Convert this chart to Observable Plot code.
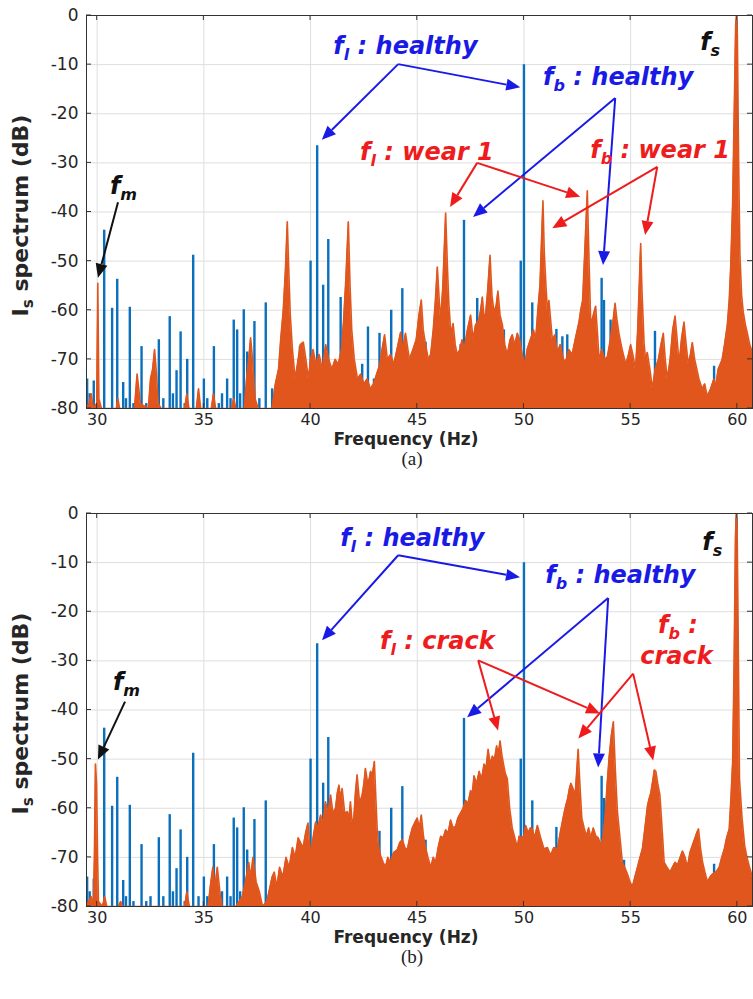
<!DOCTYPE html>
<html>
<head>
<meta charset="utf-8">
<script src="https://cdn.jsdelivr.net/npm/d3@7"></script>
<script src="https://cdn.jsdelivr.net/npm/@observablehq/plot@0.6"></script>
<style>
  html, body { margin: 0; padding: 0; background: #fff; }
  #fig { position: relative; width: 753px; height: 999px; overflow: hidden; background: #fff; }
</style>
</head>
<body>
<div id="fig"></div>
<script>
// ---------- data ----------
const xTicks = [30, 35, 40, 45, 50, 55, 60];
const yTicks = [0, -10, -20, -30, -40, -50, -60, -70, -80];

// healthy spectrum (same in both panels): spike frequencies (Hz) and levels (dB)
const healthyFreq = [29.53, 29.65, 29.84, 30.33, 30.70, 30.94, 31.22, 31.35, 31.53, 31.70, 32.08, 32.30, 32.50, 32.89, 33.10, 33.40, 33.55, 33.72, 33.91, 34.10, 34.22, 34.50, 34.75, 35.00, 35.16, 35.47, 35.70, 35.85, 36.09, 36.25, 36.40, 36.56, 36.70, 36.87, 37.03, 37.37, 37.60, 37.90, 38.20, 38.40, 38.70, 39.20, 39.50, 39.61, 39.85, 40.00, 40.15, 40.31, 40.59, 40.83, 41.09, 41.41, 41.90, 42.42, 42.69, 42.97, 43.23, 43.50, 43.78, 44.30, 44.70, 45.39, 45.80, 46.00, 46.90, 47.03, 47.19, 47.81, 48.00, 48.60, 49.06, 49.30, 49.85, 50.00, 50.39, 50.70, 51.20, 51.52, 51.80, 52.03, 52.40, 52.80, 53.30, 53.64, 53.75, 54.06, 54.40, 54.69, 55.10, 55.70, 56.14, 56.40, 56.72, 57.20, 57.60, 58.10, 58.44, 58.91, 59.30, 59.60, 59.97, 60.30, 60.60];
const healthyDb   = [-74, -77, -74.4, -43.7, -59.6, -53.7, -74.7, -78, -59.4, -79, -67.4, -79, -78, -66, -78, -61.3, -77, -72.3, -64.4, -79, -70, -48.8, -78, -74, -78, -67.4, -79, -77, -74, -78, -62, -64, -77, -59.9, -68.5, -62.3, -78, -58.5, -76, -77, -78, -77, -67.4, -68, -76, -50, -77, -26.5, -54.9, -45.6, -72, -57.4, -76, -71, -63.4, -74, -64.7, -77, -60, -55.6, -76, -66.5, -77, -75, -76, -67, -41.7, -57.6, -76, -77, -64, -75, -50, -10, -58.5, -76, -74, -63.9, -65.4, -65, -77, -76, -75, -53.5, -58, -62, -76, -70.6, -77, -78, -64.3, -76, -74, -78, -77, -79, -78, -71.4, -77, -76, -1, -75, -78];

// wear 1 spectrum (panel a)
const wearFreq = [29.50, 29.62, 29.72, 29.82, 29.98, 30.03, 30.08, 30.20, 30.90, 30.97, 31.05, 31.75, 31.87, 31.95, 32.02, 32.40, 32.50, 32.60, 32.69, 32.78, 32.86, 33.00, 34.10, 34.20, 34.30, 34.65, 34.75, 34.85, 35.35, 35.45, 35.55, 36.30, 36.40, 36.50, 36.90, 37.00, 37.10, 37.19, 37.28, 37.40, 37.55, 38.20, 38.35, 38.50, 38.60, 38.72, 38.82, 38.91, 38.98, 39.05, 39.15, 39.28, 39.42, 39.52, 39.66, 39.78, 39.90, 40.00, 40.12, 40.25, 40.40, 40.55, 40.71, 40.85, 41.00, 41.15, 41.30, 41.45, 41.55, 41.65, 41.77, 41.85, 41.93, 42.05, 42.20, 42.35, 42.50, 42.65, 42.80, 42.95, 43.10, 43.25, 43.35, 43.47, 43.60, 43.75, 43.90, 44.05, 44.22, 44.32, 44.45, 44.63, 44.80, 44.95, 45.08, 45.19, 45.28, 45.39, 45.52, 45.63, 45.75, 45.85, 45.94, 46.03, 46.10, 46.20, 46.33, 46.42, 46.48, 46.58, 46.68, 46.78, 46.87, 47.00, 47.10, 47.20, 47.35, 47.50, 47.62, 47.73, 47.88, 47.97, 48.05, 48.12, 48.20, 48.30, 48.41, 48.50, 48.60, 48.70, 48.78, 48.88, 48.99, 49.10, 49.22, 49.35, 49.45, 49.57, 49.69, 49.80, 49.92, 50.05, 50.15, 50.30, 50.45, 50.55, 50.65, 50.75, 50.83, 50.89, 50.95, 51.03, 51.10, 51.17, 51.25, 51.33, 51.45, 51.56, 51.70, 51.85, 51.95, 52.10, 52.26, 52.40, 52.50, 52.58, 52.66, 52.75, 52.85, 52.97, 53.05, 53.13, 53.25, 53.36, 53.45, 53.52, 53.65, 53.78, 53.91, 54.05, 54.18, 54.27, 54.36, 54.45, 54.60, 54.77, 54.90, 55.00, 55.10, 55.23, 55.33, 55.41, 55.47, 55.53, 55.63, 55.70, 55.78, 55.90, 56.02, 56.15, 56.30, 56.42, 56.53, 56.62, 56.72, 56.85, 56.97, 57.08, 57.18, 57.27, 57.38, 57.50, 57.60, 57.70, 57.80, 57.89, 58.00, 58.20, 58.35, 58.47, 58.59, 58.75, 58.90, 58.98, 59.10, 59.20, 59.29, 59.40, 59.53, 59.62, 59.69, 59.78, 59.86, 59.92, 59.96, 60.00, 60.06, 60.12, 60.20, 60.28, 60.38, 60.47, 60.58, 60.71];
const wearDb   = [-80, -79, -77, -80, -79, -54.5, -78, -80, -80, -78, -80, -80, -73, -76, -79, -80, -74, -72, -68, -73, -79, -80, -80, -77, -80, -80, -76, -80, -80, -77, -80, -80, -78, -80, -80, -74, -70, -65.6, -70, -78, -80, -80, -75, -72, -66, -60, -52, -42, -52, -61, -68, -74, -70, -67, -66.5, -70, -74, -70, -68, -71, -69, -72, -67, -70, -72, -70, -71, -68, -62, -54, -42, -55, -64, -70, -74, -73, -75, -74, -76, -75, -73, -71, -68, -65, -70, -69, -71, -68, -64.5, -68, -64.7, -70, -68, -66, -61, -57.9, -64, -67, -70, -69, -64, -58, -51.2, -58, -62, -55, -40.2, -52, -58.6, -65, -62.7, -67, -69, -68, -66, -68, -64, -61, -66, -63, -62, -60, -57.3, -61, -61, -56, -48.8, -57, -60.5, -59, -56.1, -61, -63, -67, -69, -66, -65, -67, -64.7, -66, -69, -71, -68, -66, -64, -66, -60, -55, -45, -37.7, -48, -55, -60, -58, -62, -66, -65, -68.6, -67, -70, -70.5, -68, -69, -66, -64, -62.4, -60, -58, -48, -35.7, -50, -63, -61, -59.2, -65, -70, -68, -70, -69.5, -66, -62, -58.6, -62, -64.7, -68, -71, -69, -67, -69, -72, -64, -54, -46.4, -56, -66.8, -70, -68.6, -72, -76, -72, -70, -67, -64.7, -70, -74, -70, -64, -61.2, -66, -71, -66, -62.4, -67, -71, -69, -66.6, -70, -74, -76, -75, -77.5, -76, -74, -75.7, -72, -71, -70, -67, -63, -58, -51, -38, -18, -2, 0, -4, -30, -48.6, -57, -60.5, -63, -64.7, -67, -68.6];

// crack spectrum (panel b)
const crackFreq = [29.50, 29.60, 29.72, 29.82, 29.87, 29.92, 29.97, 30.02, 30.06, 30.25, 30.35, 30.45, 31.00, 31.10, 31.20, 34.10, 34.20, 34.32, 35.20, 35.30, 35.42, 35.52, 35.63, 35.75, 35.85, 36.50, 36.80, 36.95, 37.10, 37.20, 37.30, 37.45, 37.60, 37.75, 37.95, 38.10, 38.20, 38.30, 38.42, 38.55, 38.70, 38.85, 39.00, 39.15, 39.28, 39.42, 39.53, 39.65, 39.77, 39.88, 40.00, 40.12, 40.24, 40.35, 40.47, 40.58, 40.70, 40.82, 40.94, 41.05, 41.17, 41.25, 41.33, 41.40, 41.48, 41.60, 41.72, 41.80, 41.87, 41.95, 42.03, 42.10, 42.18, 42.30, 42.42, 42.50, 42.57, 42.68, 42.75, 42.81, 42.90, 42.99, 43.06, 43.12, 43.20, 43.28, 43.40, 43.51, 43.62, 43.74, 43.90, 44.06, 44.18, 44.30, 44.42, 44.53, 44.65, 44.77, 44.88, 45.00, 45.10, 45.19, 45.30, 45.39, 45.50, 45.63, 45.75, 45.86, 45.98, 46.10, 46.22, 46.33, 46.45, 46.56, 46.68, 46.80, 46.90, 47.03, 47.15, 47.27, 47.38, 47.50, 47.58, 47.66, 47.78, 47.90, 48.02, 48.13, 48.22, 48.32, 48.42, 48.52, 48.62, 48.72, 48.80, 48.88, 48.96, 49.04, 49.13, 49.22, 49.33, 49.45, 49.57, 49.69, 49.77, 49.88, 50.00, 50.08, 50.20, 50.30, 50.39, 50.50, 50.63, 50.78, 50.94, 51.10, 51.25, 51.40, 51.57, 51.70, 51.80, 51.88, 51.96, 52.05, 52.13, 52.20, 52.30, 52.40, 52.48, 52.54, 52.62, 52.71, 52.82, 52.93, 53.03, 53.13, 53.25, 53.37, 53.48, 53.60, 53.70, 53.80, 53.90, 53.99, 54.10, 54.19, 54.28, 54.38, 54.50, 54.61, 54.72, 54.85, 54.97, 55.08, 55.20, 55.32, 55.44, 55.55, 55.67, 55.79, 55.87, 55.94, 56.05, 56.11, 56.18, 56.27, 56.37, 56.47, 56.57, 56.70, 56.85, 56.96, 57.08, 57.20, 57.32, 57.43, 57.55, 57.66, 57.78, 57.90, 58.02, 58.10, 58.18, 58.27, 58.37, 58.48, 58.60, 58.72, 58.84, 59.00, 59.15, 59.27, 59.39, 59.50, 59.62, 59.70, 59.78, 59.85, 59.91, 59.95, 59.99, 60.04, 60.10, 60.22, 60.34, 60.45, 60.57, 60.71];
const crackDb   = [-80, -79, -78, -80, -70, -51, -55, -70, -79, -80, -78, -80, -80, -79, -80, -80, -77, -80, -80, -76, -72, -76, -72, -77, -80, -80, -78, -75, -71, -74, -70, -75, -77, -80, -79, -76, -74, -73, -76, -72, -74, -70, -72, -68, -70, -66, -67, -68, -65, -63, -69.6, -66, -62.8, -64, -61.4, -63, -58.7, -61, -57.3, -61, -60, -57, -55.3, -58, -56, -61, -60.7, -62, -58.7, -63, -62, -57, -53.2, -59, -57.3, -55, -51.9, -55, -54, -52.5, -53, -50.5, -58, -64, -68, -69.6, -71, -72, -70, -71, -69, -68.5, -67, -66.4, -68, -68.5, -66, -64, -63, -62, -64, -61.4, -66, -68, -70, -72, -70, -71, -68, -65.7, -66, -64.4, -65, -62.4, -64, -63.7, -62, -61, -60, -58.4, -59, -56.4, -57, -53.4, -55, -52.5, -54, -51, -52, -48, -51, -49.4, -50, -47.3, -49, -46.3, -49, -51, -53, -54, -60, -64, -66, -68, -65.7, -66, -65.7, -63.5, -65, -64, -64.2, -66, -63.5, -66, -68.3, -68, -69.6, -68, -68.3, -65, -62.8, -61, -59.5, -58, -56, -54.9, -56, -57.3, -52, -48, -55, -62, -64, -65.7, -64, -66, -64, -65.7, -66, -67.5, -66, -62, -55, -49.7, -45, -42.4, -52, -60.7, -66, -71, -72, -73.4, -75, -76, -74, -72, -70, -68.3, -64, -59.5, -58, -57, -54, -52.2, -52.5, -55, -57.3, -64, -71, -72, -73, -72, -71, -71.5, -70, -68.7, -70, -72, -69, -67.5, -66, -65, -64.2, -68, -71, -73, -75, -74, -73.4, -73, -72, -70, -68.3, -66, -64.2, -58, -50.5, -30, -5, 0, -3, -25, -54, -62, -67.5, -70, -72, -74];

// ---------- annotations (data coordinates: Hz, dB) ----------
const BLUE = "#1a1ae6", RED = "#ee1c1c", BLACK = "#111";
const labelsA = [
  {f: 41.09, db: -7.9, color: BLUE, parts: [["f"], ["l", 1], [" : healthy"]]},
  {f: 50.92, db: -14.2, color: BLUE, parts: [["f"], ["b", 1], [" : healthy"]]},
  {f: 42.34, db: -29.5, color: RED, parts: [["f"], ["l", 1], [" : wear 1"]]},
  {f: 53.13, db: -29.1, color: RED, parts: [["f"], ["b", 1], [" : wear 1"]]},
  {f: 58.28, db: -7.1, color: BLACK, parts: [["f"], ["s", 1]]},
  {f: 30.62, db: -36.4, color: BLACK, parts: [["f"], ["m", 1]]}
];
const arrowsA = [
  {color: BLUE, from: [44.13, -10.0], to: [40.55, -25.4]},
  {color: BLUE, from: [44.13, -10.0], to: [49.85, -14.7]},
  {color: BLUE, from: [54.30, -16.9], to: [47.64, -41.1]},
  {color: BLUE, from: [54.30, -16.9], to: [53.73, -50.9]},
  {color: RED, from: [47.83, -30.1], to: [46.56, -39.1]},
  {color: RED, from: [47.83, -30.1], to: [52.66, -37.0]},
  {color: RED, from: [56.27, -30.9], to: [51.35, -43.4]},
  {color: RED, from: [56.27, -30.9], to: [55.70, -44.8]},
  {color: BLACK, from: [31.00, -38.1], to: [30.06, -53.5]}
];
const labelsB = [
  {f: 41.41, db: -6.7, color: BLUE, parts: [["f"], ["l", 1], [" : healthy"]]},
  {f: 51.02, db: -14.3, color: BLUE, parts: [["f"], ["b", 1], [" : healthy"]]},
  {f: 43.28, db: -27.6, color: RED, parts: [["f"], ["l", 1], [" : crack"]]},
  {f: 56.31, db: -24.5, color: RED, parts: [["f"], ["b", 1], [" :"]]},
  {f: 55.47, db: -30.8, color: RED, parts: [["crack"]]},
  {f: 58.38, db: -7.6, color: BLACK, parts: [["f"], ["s", 1]]},
  {f: 30.76, db: -36.1, color: BLACK, parts: [["f"], ["m", 1]]}
];
const arrowsB = [
  {color: BLUE, from: [44.13, -8.6], to: [40.56, -25.9]},
  {color: BLUE, from: [44.13, -8.6], to: [49.84, -13.1]},
  {color: BLUE, from: [53.97, -17.3], to: [47.36, -41.6]},
  {color: BLUE, from: [53.97, -17.3], to: [53.50, -51.8]},
  {color: RED, from: [47.88, -30.0], to: [48.81, -44.3]},
  {color: RED, from: [47.88, -30.0], to: [53.59, -40.8]},
  {color: RED, from: [55.14, -32.7], to: [52.57, -45.9]},
  {color: RED, from: [55.14, -32.7], to: [56.08, -50.4]},
  {color: BLACK, from: [31.33, -38.4], to: [30.06, -50.2]}
];

// ---------- build ----------
const zip = (fs, ds) => fs.map((f, i) => ({f, db: ds[i]}));
const healthy = zip(healthyFreq, healthyDb);
const wear = zip(wearFreq, wearDb);
const crack = zip(crackFreq, crackDb);

const STEM = "#0a6fbd";
const ORANGE = "#e0561d";
const W = 753, H = 470, ML = 86, MR = 1, MT = 15, MB = 62;

function panel(fault, labels, arrows, caption, top) {
  const plot = Plot.plot({
    width: W, height: H,
    marginLeft: ML, marginRight: MR, marginTop: MT, marginBottom: MB,
    x: {domain: [29.5, 60.71]},
    y: {domain: [-80, 0]},
    style: {fontFamily: "'DejaVu Sans', sans-serif", fontSize: "16px", color: "#262626", background: "transparent", overflow: "visible"},
    marks: [
      Plot.gridX(xTicks, {stroke: "#dedede", strokeOpacity: 1}),
      Plot.gridY(yTicks, {stroke: "#dedede", strokeOpacity: 1}),
      Plot.ruleX(healthy, {x: "f", y1: -80, y2: "db", stroke: STEM, strokeWidth: 2.4, clip: true}),
      Plot.areaY(fault, {x: "f", y1: -80, y2: "db", fill: ORANGE, clip: true}),
      Plot.lineY(fault, {x: "f", y: "db", stroke: ORANGE, strokeWidth: 1.6, clip: true}),
      Plot.axisX(xTicks, {tickSize: 0, tickPadding: 5, label: null, tickFormat: d => String(d)}),
      Plot.axisY(yTicks, {tickSize: 0, tickPadding: 8, label: null, tickFormat: d => String(d), fontSize: 17}),
      Plot.frame({stroke: "#333"})
    ]
  });
  plot.style.position = "absolute";
  plot.style.left = "0px";
  plot.style.top = top + "px";

  const sx = plot.scale("x"), sy = plot.scale("y");
  const X = v => sx.apply(v), Y = v => sy.apply(v);
  const svg = d3.select(plot);
  const g = svg.append("g").attr("text-anchor", "start");
  const x0 = ML, x1 = W - MR, y0 = MT, y1 = H - MB;

  // inward tick marks (MATLAB box style)
  for (const t of xTicks) {
    g.append("line").attr("x1", X(t)).attr("x2", X(t)).attr("y1", y0).attr("y2", y0 + 5).attr("stroke", "#333");
    g.append("line").attr("x1", X(t)).attr("x2", X(t)).attr("y1", y1).attr("y2", y1 - 5).attr("stroke", "#333");
  }
  for (const t of yTicks) {
    g.append("line").attr("x1", x0).attr("x2", x0 + 5).attr("y1", Y(t)).attr("y2", Y(t)).attr("stroke", "#333");
    g.append("line").attr("x1", x1).attr("x2", x1 - 5).attr("y1", Y(t)).attr("y2", Y(t)).attr("stroke", "#333");
  }

  // axis titles
  g.append("text").attr("x", 406).attr("y", y1 + 37)
    .attr("text-anchor", "middle").attr("font-family", "'DejaVu Sans', sans-serif")
    .attr("font-weight", "bold").attr("font-size", 17).attr("fill", "#262626").text("Frequency (Hz)");
  const yl = g.append("text").attr("transform", `translate(28,${(y0 + y1) / 2 + 4}) rotate(-90)`)
    .attr("text-anchor", "middle").attr("font-family", "'DejaVu Sans', sans-serif")
    .attr("font-weight", "bold").attr("font-size", 22).attr("fill", "#262626");
  yl.append("tspan").text("I");
  yl.append("tspan").attr("font-size", 15).attr("dy", 5).text("s");
  yl.append("tspan").attr("dy", -5).text(" spectrum (dB)");

  g.append("text").attr("x", 412).attr("y", y1 + 57)
    .attr("text-anchor", "middle").attr("font-family", "'Liberation Serif', serif")
    .attr("font-size", 19).attr("fill", "#222").text(caption);

  // arrows
  for (const a of arrows) {
    const ax = X(a.from[0]), ay = Y(a.from[1]), bx = X(a.to[0]), by = Y(a.to[1]);
    const dx = bx - ax, dy = by - ay, len = Math.hypot(dx, dy), ux = dx / len, uy = dy / len;
    const hl = 14, hw = 6;
    const ex = bx - ux * hl, ey = by - uy * hl;
    g.append("line").attr("x1", ax).attr("y1", ay).attr("x2", ex).attr("y2", ey)
      .attr("stroke", a.color).attr("stroke-width", 2);
    g.append("path").attr("d", `M${bx},${by}L${ex - uy * hw},${ey + ux * hw}L${ex + uy * hw},${ey - ux * hw}Z`)
      .attr("fill", a.color);
  }

  // labels
  for (const l of labels) {
    const t = g.append("text").attr("x", X(l.f)).attr("y", Y(l.db))
      .attr("text-anchor", "start")
      .attr("font-family", "'DejaVu Sans', sans-serif").attr("font-weight", "bold")
      .attr("font-style", "italic").attr("font-size", 24).attr("fill", l.color);
    let shift = 0;
    for (const [s, sub] of l.parts) {
      const sp = t.append("tspan").text(s);
      if (sub) { sp.attr("font-size", 16).attr("dy", 6 - shift); shift = 6; }
      else { sp.attr("dy", -shift); shift = 0; }
    }
  }
  document.getElementById("fig").appendChild(plot);
}

panel(wear, labelsA, arrowsA, "(a)", 0);
panel(crack, labelsB, arrowsB, "(b)", 498);
</script>
</body>
</html>
